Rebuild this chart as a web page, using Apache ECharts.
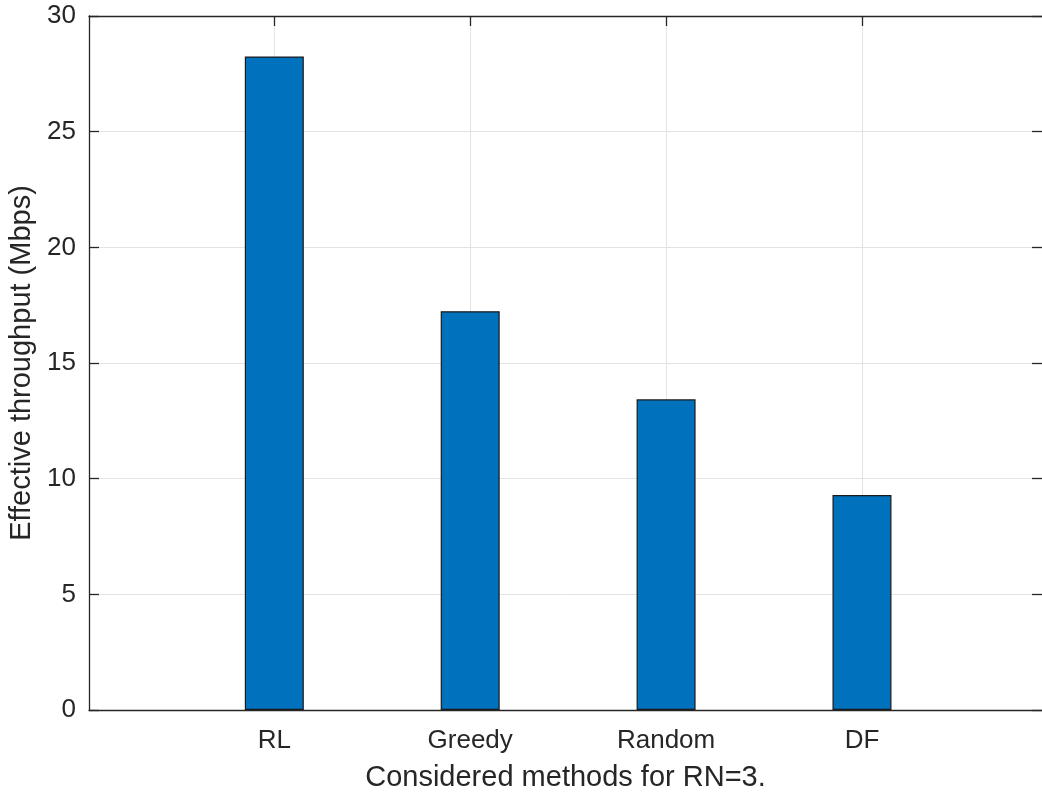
<!DOCTYPE html>
<html>
<head>
<meta charset="utf-8">
<title>Effective throughput by method</title>
<script src="https://cdn.jsdelivr.net/npm/echarts@6/dist/echarts.min.js"></script>
<style>
  html, body { margin: 0; padding: 0; background: #ffffff; }
  #chart { width: 1042px; height: 793px; }
</style>
</head>
<body>
<div id="chart"></div>
<script>
// Methods compared and their effective throughput (Mbps)
const methods = ['RL', 'Greedy', 'Random', 'DF'];
const throughput = [28.25, 17.24, 13.43, 9.29];
const yTicks = [0, 5, 10, 15, 20, 25, 30];

const positions = methods.map((_, i) => i + 1);
const barData = positions.map((p, i) => [p, throughput[i]]);

const axisColor = '#262626';
const gridColor = '#e3e3e3';
const font = '"Liberation Sans", Arial, Helvetica, sans-serif';

const xRange = { min: 0.054, max: 4.919 };

const chart = echarts.init(document.getElementById('chart'), null, { renderer: 'canvas' });

chart.setOption({
  animation: false,
  backgroundColor: '#ffffff',
  grid: {
    left: 89, right: 0, top: 16, bottom: 83,
    containLabel: false,
    outerBoundsMode: 'none'
  },
  xAxis: [
    {
      type: 'value',
      position: 'bottom',
      min: xRange.min,
      max: xRange.max,
      name: 'Considered methods for RN=3.',
      nameLocation: 'middle',
      nameGap: 53,
      nameTextStyle: { color: axisColor, fontSize: 29, fontFamily: font },
      axisLine: { show: true, onZero: false, lineStyle: { color: axisColor, width: 1.3 } },
      axisTick: { show: true, inside: true, length: 10, customValues: positions,
                  lineStyle: { color: axisColor, width: 1.3 } },
      axisLabel: {
        show: true, customValues: positions, margin: 18,
        color: axisColor, fontSize: 26, fontFamily: font,
        formatter: v => methods[Math.round(v) - 1] || ''
      },
      splitLine: { show: true, lineStyle: { color: gridColor, width: 1 } }
    },
    {
      type: 'value',
      position: 'top',
      min: xRange.min,
      max: xRange.max,
      axisLine: { show: true, onZero: false, lineStyle: { color: axisColor, width: 1.3 } },
      axisTick: { show: true, inside: true, length: 10, customValues: positions,
                  lineStyle: { color: axisColor, width: 1.3 } },
      axisLabel: { show: false },
      splitLine: { show: false }
    }
  ],
  yAxis: [
    {
      type: 'value',
      position: 'left',
      min: 0,
      max: 30,
      interval: 5,
      name: 'Effective throughput (Mbps)',
      nameLocation: 'middle',
      nameGap: 52,
      nameTextStyle: { color: axisColor, fontSize: 29, fontFamily: font },
      axisLine: { show: true, onZero: false, lineStyle: { color: axisColor, width: 1.3 } },
      axisTick: { show: true, inside: true, length: 10, lineStyle: { color: axisColor, width: 1.3 } },
      axisLabel: {
        color: axisColor, fontSize: 26, fontFamily: font, margin: 13,
        formatter: v => yTicks.includes(v) ? String(v) : ''
      },
      splitLine: { show: true, lineStyle: { color: gridColor, width: 1 } }
    },
    {
      type: 'value',
      position: 'right',
      min: 0,
      max: 30,
      interval: 5,
      axisLine: { show: false },
      axisTick: { show: true, inside: true, length: 10, lineStyle: { color: axisColor, width: 1.3 } },
      axisLabel: { show: false },
      splitLine: { show: false }
    }
  ],
  series: [
    {
      type: 'bar',
      xAxisIndex: 0,
      yAxisIndex: 0,
      data: barData,
      barWidth: 59,
      itemStyle: { color: '#0072BD', borderColor: '#1a1a1a', borderWidth: 1.2 },
      z: 3
    }
  ]
});
</script>
</body>
</html>
